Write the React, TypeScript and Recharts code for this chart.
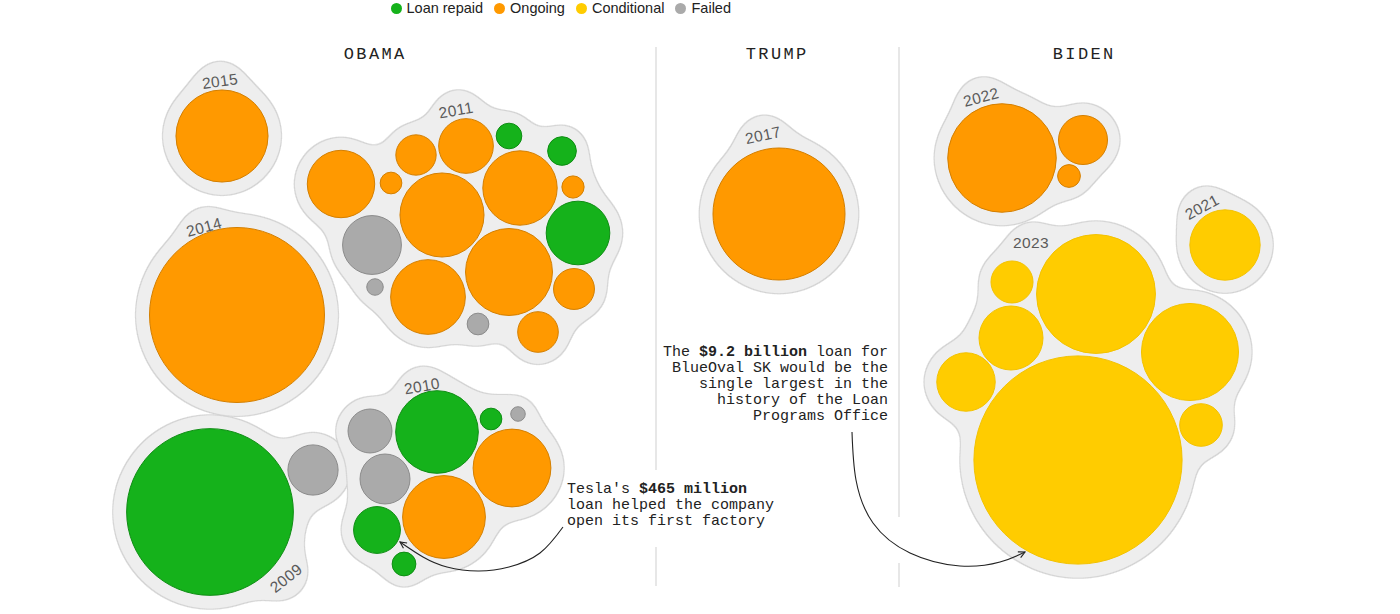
import React from 'react';
import { ScatterChart, Scatter, XAxis, YAxis, ZAxis, ReferenceLine } from 'recharts';

type Loan = { x: number; y: number; amount: number; status: string };

// amount = loan size in $ millions, x / y = bubble centre in the packed layout
const loans2009: Loan[] = [
  { x: 210, y: 512, amount: 5900, status: 'repaid' },
  { x: 313, y: 470, amount: 535, status: 'failed' },
];
const loans2010: Loan[] = [
  { x: 370, y: 431, amount: 410, status: 'failed' },
  { x: 437, y: 432, amount: 1450, status: 'repaid' },
  { x: 491, y: 419, amount: 100, status: 'repaid' },
  { x: 518, y: 414, amount: 45, status: 'failed' },
  { x: 385, y: 479, amount: 530, status: 'failed' },
  { x: 512, y: 468, amount: 1285, status: 'ongoing' },
  { x: 444, y: 517, amount: 1455, status: 'ongoing' },
  { x: 377, y: 530, amount: 465, status: 'repaid' },
  { x: 404, y: 564, amount: 120, status: 'repaid' },
];
const loans2011: Loan[] = [
  { x: 341, y: 184, amount: 965, status: 'ongoing' },
  { x: 391, y: 183, amount: 100, status: 'ongoing' },
  { x: 416, y: 155, amount: 345, status: 'ongoing' },
  { x: 466, y: 146, amount: 635, status: 'ongoing' },
  { x: 509, y: 136, amount: 140, status: 'repaid' },
  { x: 562, y: 151, amount: 175, status: 'repaid' },
  { x: 520, y: 188, amount: 1175, status: 'ongoing' },
  { x: 573, y: 187, amount: 105, status: 'ongoing' },
  { x: 442, y: 215, amount: 1500, status: 'ongoing' },
  { x: 578, y: 233, amount: 860, status: 'repaid' },
  { x: 372, y: 245, amount: 735, status: 'failed' },
  { x: 375, y: 287, amount: 58, status: 'failed' },
  { x: 428, y: 297, amount: 1185, status: 'ongoing' },
  { x: 509, y: 272, amount: 1605, status: 'ongoing' },
  { x: 574, y: 289, amount: 355, status: 'ongoing' },
  { x: 478, y: 324, amount: 100, status: 'failed' },
  { x: 538, y: 332, amount: 350, status: 'ongoing' },
];
const loans2014: Loan[] = [{ x: 237, y: 315, amount: 6500, status: 'ongoing' }];
const loans2015: Loan[] = [{ x: 222, y: 136, amount: 1800, status: 'ongoing' }];
const loans2017: Loan[] = [{ x: 779, y: 214, amount: 3700, status: 'ongoing' }];
const loans2021: Loan[] = [{ x: 1225, y: 245, amount: 1050, status: 'conditional' }];
const loans2022: Loan[] = [
  { x: 1002, y: 158, amount: 2500, status: 'ongoing' },
  { x: 1083, y: 140, amount: 510, status: 'ongoing' },
  { x: 1069, y: 176, amount: 110, status: 'ongoing' },
];
const loans2023: Loan[] = [
  { x: 1012, y: 282, amount: 375, status: 'conditional' },
  { x: 1096, y: 294, amount: 3000, status: 'conditional' },
  { x: 1011, y: 338, amount: 870, status: 'conditional' },
  { x: 966, y: 382, amount: 725, status: 'conditional' },
  { x: 1190, y: 352, amount: 2000, status: 'conditional' },
  { x: 1201, y: 425, amount: 385, status: 'conditional' },
  { x: 1078, y: 460, amount: 9200, status: 'conditional' },
];

const yearGroups = [
  { year: '2009', loans: loans2009 },
  { year: '2010', loans: loans2010 },
  { year: '2011', loans: loans2011 },
  { year: '2014', loans: loans2014 },
  { year: '2015', loans: loans2015 },
  { year: '2017', loans: loans2017 },
  { year: '2021', loans: loans2021 },
  { year: '2022', loans: loans2022 },
  { year: '2023', loans: loans2023 },
];

const yearLabels = [
  { year: '2009', x: 286, y: 578, angle: -38 },
  { year: '2010', x: 422, y: 386, angle: -10 },
  { year: '2011', x: 456, y: 110, angle: -10 },
  { year: '2014', x: 204, y: 227, angle: -15 },
  { year: '2015', x: 220, y: 81, angle: -8 },
  { year: '2017', x: 763, y: 135, angle: -12 },
  { year: '2021', x: 1202, y: 207, angle: -28 },
  { year: '2022', x: 981, y: 97, angle: -15 },
  { year: '2023', x: 1031, y: 242, angle: 0 },
];

const presidents = [
  { name: 'OBAMA', x: 374, y: 54 },
  { name: 'TRUMP', x: 776, y: 54 },
  { name: 'BIDEN', x: 1083, y: 54 },
];

const legendItems = [
  { key: 'repaid', label: 'Loan repaid' },
  { key: 'ongoing', label: 'Ongoing' },
  { key: 'conditional', label: 'Conditional' },
  { key: 'failed', label: 'Failed' },
];

const teslaNote = { x: 567, y: 493, align: 'start', lines: [[["Tesla's ", false], ['$465 million', true]], [['loan helped the company', false]], [['open its first factory', false]]] };
const blueOvalNote = { x: 888, y: 356, align: 'end', lines: [[['The ', false], ['$9.2 billion', true], [' loan for', false]], [['BlueOval SK would be the', false]], [['single largest in the', false]], [['history of the Loan', false]], [['Programs Office', false]]] };

const teslaArrow = [
  { x: 563, y: 527 }, { x: 540, y: 553 }, { x: 509, y: 567 }, { x: 478, y: 571 },
  { x: 447, y: 567 }, { x: 423, y: 557 }, { x: 400, y: 542 },
];
const blueOvalArrow = [
  { x: 852, y: 432 }, { x: 856, y: 480 }, { x: 873, y: 523 }, { x: 910, y: 553 },
  { x: 960, y: 566 }, { x: 1000, y: 562 }, { x: 1025, y: 552 },
];

const COLORS: Record<string, { fill: string; stroke: string }> = {
  repaid: { fill: '#15b21b', stroke: '#0e8d13' },
  ongoing: { fill: '#ff9900', stroke: '#d47f00' },
  conditional: { fill: '#ffcc00', stroke: '#f3c200' },
  failed: { fill: '#aaaaaa', stroke: '#8b8b8b' },
};

const AREA_PER_MILLION = 3.7; // px² of bubble per $1M
const BLOB_PAD = 10;
const MONO = '"Liberation Mono", "DejaVu Sans Mono", monospace';
const SANS = '"Liberation Sans", Arial, sans-serif';

const allLoans = yearGroups.flatMap((g) => g.loans);

// pull the label anchor a little toward the group so the blob swells smoothly round it
const blobData = (g: { year: string; loans: Loan[] }) => {
  const lab = yearLabels.find((l) => l.year === g.year)!;
  const big = g.loans.reduce((a, b) => (b.amount > a.amount ? b : a));
  const dx = big.x - lab.x;
  const dy = big.y - lab.y;
  const d = Math.hypot(dx, dy) || 1;
  return [...g.loans, { x: lab.x + (dx / d) * 8, y: lab.y + (dy / d) * 8, amount: 0, anchor: true }];
};

const blobShape = (p: any) => {
  const r = p.payload.anchor ? 26 : p.width / 2 + BLOB_PAD;
  return <circle cx={p.cx} cy={p.cy} r={r} fill="#000" />;
};

const bubbleShape = (status: string) => (p: any) => (
  <circle cx={p.cx} cy={p.cy} r={p.width / 2} fill={COLORS[status].fill} stroke={COLORS[status].stroke} strokeWidth={1} />
);

const yearShape = (p: any) => (
  <text x={p.cx} y={p.cy} textAnchor="middle" dominantBaseline="central" transform={`rotate(${p.payload.angle}, ${p.cx}, ${p.cy})`}
    fontFamily={SANS} fontSize={15.5} letterSpacing={0.4} fill="#5a5a5a">
    {p.payload.year}
  </text>
);

const titleShape = (p: any) => (
  <text x={p.cx + 1.2} y={p.cy} textAnchor="middle" dominantBaseline="central" fontFamily={MONO} fontSize={17} letterSpacing={2.4} fill="#222">
    {p.payload.name}
  </text>
);

const noteShape = (p: any) => (
  <text x={p.cx} y={p.cy} textAnchor={p.payload.align} fontFamily={MONO} fontSize={15} fill="#222">
    {p.payload.lines.map((line: any[], i: number) => (
      <tspan key={i} x={p.cx} dy={i === 0 ? 0 : 16}>
        {line.map(([t, b]: [string, boolean], j: number) => (
          <tspan key={j} fontWeight={b ? 700 : 400}>{t}</tspan>
        ))}
      </tspan>
    ))}
  </text>
);

const emptyShape = () => <g />;

export default function App() {
  return (
    <div style={{ position: 'absolute', left: 0, top: 0, width: 1400, height: 614, background: '#fff' }}>
      <style>{`.blob { filter: url(#goo); }`}</style>
      <svg width={0} height={0} style={{ position: 'absolute' }}>
        <defs>
          <filter id="goo" x="-35%" y="-35%" width="170%" height="170%" colorInterpolationFilters="sRGB">
            <feGaussianBlur in="SourceAlpha" stdDeviation="13" result="blur" />
            <feColorMatrix in="blur" type="matrix" values="0 0 0 0 0  0 0 0 0 0  0 0 0 0 0  0 0 0 28 -9" result="mask" />
            <feMorphology in="mask" operator="erode" radius="1" result="inner" />
            <feFlood floodColor="#d2d2d2" result="edgeColor" />
            <feComposite in="edgeColor" in2="mask" operator="in" result="edge" />
            <feFlood floodColor="#eeeeee" result="fillColor" />
            <feComposite in="fillColor" in2="inner" operator="in" result="fill" />
            <feMerge>
              <feMergeNode in="edge" />
              <feMergeNode in="fill" />
            </feMerge>
          </filter>
          <marker id="arrowHead" viewBox="0 0 10 10" refX="9" refY="5" markerWidth="8" markerHeight="8" orient="auto" markerUnits="userSpaceOnUse">
            <path d="M1,1 L9,5 L1,9" fill="none" stroke="#222" strokeWidth="1.4" />
          </marker>
        </defs>
      </svg>

      <div style={{ position: 'absolute', left: 390.5, top: 0, height: 16, display: 'flex', alignItems: 'center', fontFamily: SANS, fontSize: 14.5, color: '#222', zIndex: 2 }}>
        {legendItems.map((it) => (
          <div key={it.key} style={{ display: 'flex', alignItems: 'center', marginRight: 11 }}>
            <span style={{ width: 11, height: 11, borderRadius: '50%', background: COLORS[it.key].fill, marginRight: 5, display: 'inline-block' }} />
            <span>{it.label}</span>
          </div>
        ))}
      </div>

      <ScatterChart width={1400} height={614} margin={{ top: 0, right: 0, bottom: 0, left: 0 }}>
        <XAxis type="number" dataKey="x" domain={[0, 1400]} hide />
        <YAxis type="number" dataKey="y" domain={[0, 614]} reversed hide />
        <ZAxis type="number" dataKey="amount" domain={[0, 10000]} range={[0, 10000 * AREA_PER_MILLION]} />

        <ReferenceLine segment={[{ x: 656, y: 47 }, { x: 656, y: 470 }]} stroke="#cfcfcf" />
        <ReferenceLine segment={[{ x: 656, y: 547 }, { x: 656, y: 586 }]} stroke="#cfcfcf" />
        <ReferenceLine segment={[{ x: 899, y: 47 }, { x: 899, y: 517 }]} stroke="#cfcfcf" />
        <ReferenceLine segment={[{ x: 899, y: 563 }, { x: 899, y: 587 }]} stroke="#cfcfcf" />

        {yearGroups.map((g) => (
          <Scatter key={'blob' + g.year} className="blob" data={blobData(g)} shape={blobShape} isAnimationActive={false} />
        ))}

        {legendItems.map((it) => (
          <Scatter key={it.key} name={it.label} data={allLoans.filter((l) => l.status === it.key)} shape={bubbleShape(it.key)} isAnimationActive={false} />
        ))}

        <Scatter data={yearLabels} shape={yearShape} isAnimationActive={false} />
        <Scatter data={presidents} shape={titleShape} isAnimationActive={false} />
        <Scatter data={[teslaNote, blueOvalNote]} shape={noteShape} isAnimationActive={false} />

        <Scatter data={teslaArrow} shape={emptyShape} line={{ stroke: '#222', strokeWidth: 1.1, markerEnd: 'url(#arrowHead)' } as any}
          lineJointType="natural" isAnimationActive={false} />
        <Scatter data={blueOvalArrow} shape={emptyShape} line={{ stroke: '#222', strokeWidth: 1.1, markerEnd: 'url(#arrowHead)' } as any}
          lineJointType="natural" isAnimationActive={false} />
      </ScatterChart>
    </div>
  );
}
